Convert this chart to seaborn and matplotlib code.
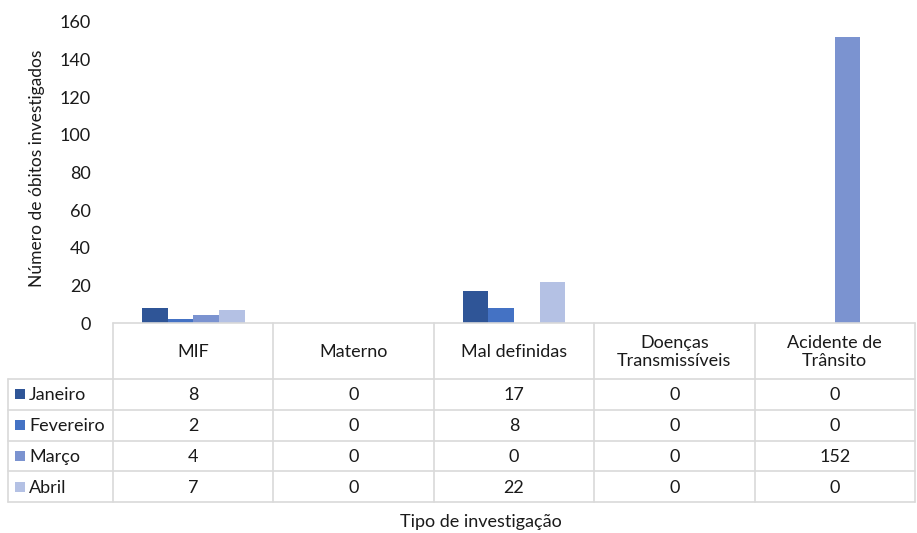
import matplotlib.pyplot as plt
import seaborn as sns
import pandas as pd
import numpy as np

# Dados
categorias = ['MIF', 'Materno', 'Mal definidas', 'Doenças\nTransmissíveis', 'Acidente de\nTrânsito']
meses = ['Janeiro', 'Fevereiro', 'Março', 'Abril']
janeiro = [8, 0, 17, 0, 0]
fevereiro = [2, 0, 8, 0, 0]
marco = [4, 0, 0, 0, 152]
abril = [7, 0, 22, 0, 0]
cores = ['#2F5597', '#4472C4', '#7B93D0', '#B4C1E4']

valores = [janeiro, fevereiro, marco, abril]
df = pd.DataFrame({
    'Tipo': categorias * len(meses),
    'Mes': [m for m in meses for _ in categorias],
    'Valor': [v for serie in valores for v in serie],
})

sns.set_theme(style='white')
plt.rcParams['font.family'] = ['Lato', 'DejaVu Sans']

W, H = 917, 533
fig = plt.figure(figsize=(W / 100, H / 100), dpi=100)

# área do gráfico (em pixels)
x0, x1 = 113, 915
y_top, y_zero = 22, 323
ax = fig.add_axes([x0 / W, (H - y_zero) / H, (x1 - x0) / W, (y_zero - y_top) / H])
sns.barplot(data=df, x='Tipo', y='Valor', hue='Mes', palette=cores, width=0.64,
            saturation=1, legend=False, linewidth=0, edgecolor='none', ax=ax)
ax.set_xlim(-0.5, len(categorias) - 0.5)
ax.set_ylim(0, 160)
ax.set_yticks(range(0, 161, 20))
ax.tick_params(axis='y', labelsize=13, length=0, pad=16, colors='#1a1a1a')
ax.set_xticks([])
ax.set_xlabel('')
ax.set_ylabel('')
for s in ax.spines.values():
    s.set_visible(False)

# tabela de dados desenhada em pixels
ov = fig.add_axes([0, 0, 1, 1])
ov.set_xlim(0, W)
ov.set_ylim(H, 0)
ov.axis('off')
ov.patch.set_alpha(0)

cor_linha = '#D9D9D9'
col_w = (x1 - x0) / len(categorias)
x_cols = [x0 + i * col_w for i in range(len(categorias) + 1)]
y_head = 379
row_h = 30.8
y_rows = [y_head + i * row_h for i in range(len(meses) + 1)]
x_lab = 8
fs = 13

# linhas horizontais
ov.plot([x0, x1], [y_zero, y_zero], color=cor_linha, lw=1.2)
for y in y_rows:
    ov.plot([x_lab, x1], [y, y], color=cor_linha, lw=1.2)
# linhas verticais
for x in x_cols:
    ov.plot([x, x], [y_zero, y_rows[-1]], color=cor_linha, lw=1.2)
ov.plot([x_lab, x_lab], [y_head, y_rows[-1]], color=cor_linha, lw=1.2)

# cabeçalho
for i, cat in enumerate(categorias):
    ov.text((x_cols[i] + x_cols[i + 1]) / 2, (y_zero + y_head) / 2 + 1, cat,
            ha='center', va='center', fontsize=fs, color='#1a1a1a', linespacing=1.2)

# linhas com valores
for j, (mes, serie) in enumerate(zip(meses, valores)):
    yc = (y_rows[j] + y_rows[j + 1]) / 2
    ov.add_patch(plt.Rectangle((15, yc - 5), 10, 10, color=cores[j], lw=0))
    ov.text(29, yc + 1, mes, ha='left', va='center', fontsize=fs, color='#1a1a1a')
    for i, v in enumerate(serie):
        ov.text((x_cols[i] + x_cols[i + 1]) / 2, yc + 1, str(v),
                ha='center', va='center', fontsize=fs, color='#1a1a1a')

# títulos dos eixos
ov.text(37, 168, 'Número de óbitos investigados', rotation=90, ha='center', va='center',
        fontsize=12.5, color='#1a1a1a')
ov.text(481, 522, 'Tipo de investigação', ha='center', va='center',
        fontsize=fs, color='#1a1a1a')

fig.savefig('out.png', dpi=100)
plt.close()
